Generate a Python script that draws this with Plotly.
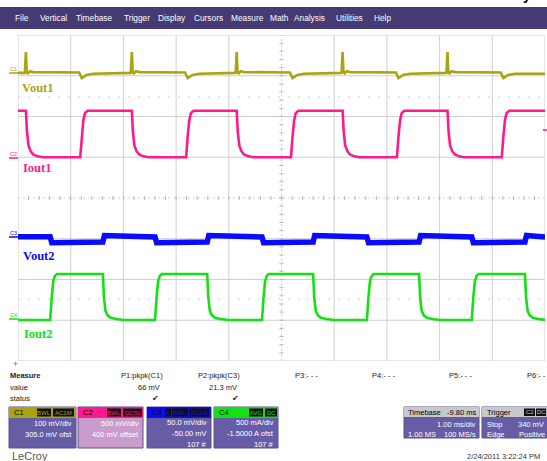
import plotly.graph_objects as go

W, H = 547, 461
GRID_L, GRID_R, GRID_T, GRID_B = 18, 545, 35, 361

# ---------------- data ----------------
n_xdiv = 10          # 1.00 ms/div
n_ydiv = 8

# channel vertical settings  (screen div = (value + offset) / scale)
c1_scale_mv, c1_offset_mv = 100.0, 305.0     # Vout1
c2_scale_v, c2_offset_v = 0.5, 0.4           # Iout1
c3_scale_mv, c3_offset_mv = 50.0, -50.0      # Vout2
c4_scale_a, c4_offset_a = 0.5, -1.5          # Iout2

# Iout1 (C2) edges, ms
iout1_fall_ms = [0.15, 2.16, 4.15, 6.16, 8.15]
iout1_rise_ms = [1.18, 3.19, 5.18, 7.19, 9.18]
iout1_high_v = 0.67
iout1_low_v = 0.10
iout1_fall_dt = [0.0, 0.02, 0.05, 0.09, 0.14, 0.22, 0.32]
iout1_fall_frac = [1.0, 0.55, 0.25, 0.13, 0.06, 0.02, 0.0]
iout1_rise_dt = [0.0, 0.03, 0.06, 0.09, 0.14]
iout1_rise_frac = [0.0, 0.45, 0.8, 0.95, 1.0]

# Vout1 (C1), mV, AC coupled: spikes at Iout1 falls, dips at Iout1 rises
vout1_start_mv = 2.0
vout1_spike_dt = [-0.02, 0.0, 0.015, 0.04, 0.08, 0.14]
vout1_spike_mv = [2.0, 53.0, 5.0, 1.0, 6.0, 4.0]
vout1_dip_dt = [-0.02, 0.03, 0.06, 0.12, 0.25]
vout1_dip_mv = [3.0, -10.5, -8.0, -3.0, 0.0]

# Iout2 (C4) edges, ms
iout2_rise_ms = [0.61, 2.60, 4.63, 6.62, 8.61]
iout2_fall_ms = [1.61, 3.59, 5.60, 7.61, 9.62]
iout2_high_a = 0.567
iout2_low_a = 0.003
iout2_rise_dt = [0.0, 0.03, 0.06, 0.09, 0.13]
iout2_rise_frac = [0.0, 0.5, 0.85, 0.96, 1.0]
iout2_fall_dt = [0.0, 0.02, 0.05, 0.09, 0.15, 0.25, 0.4]
iout2_fall_frac = [1.0, 0.5, 0.2, 0.1, 0.05, 0.02, 0.0]

# Vout2 (C3), mV, AC coupled: low while Iout2 high
vout2_start_mv = 2.5
vout2_high_start_mv = 4.0
vout2_high_end_mv = 2.2
vout2_low_start_mv = -4.8
vout2_low_end_mv = -4.0
vout2_step_ms = 0.03

menu_items = ["File", "Vertical", "Timebase", "Trigger", "Display", "Cursors",
              "Measure", "Math", "Analysis", "Utilities", "Help"]
menu_x = [13, 38, 74, 122, 156, 192, 229, 268, 292, 334, 372]

# ---------------- colours ----------------
OLIVE = "#a8a412"
PINK = "#ff1a8c"
BLUE = "#0a0aff"
GREEN = "#14e014"
PURPLE = "#675ca6"
MENU = "#453a73"
GRIDC = "#cfcfcf"


def square(start_high, rises, falls, lo, hi, rdt, rfr, fdt, ffr):
    xs = [0.0]
    ys = [hi if start_high else lo]
    ev = sorted([(t, rdt, rfr) for t in rises] + [(t, fdt, ffr) for t in falls])
    for t, dts, frs in ev:
        for d, f in zip(dts, frs):
            xs.append(t + d)
            ys.append(lo + f * (hi - lo))
    xs.append(float(n_xdiv))
    ys.append(ys[-1])
    return xs, ys


def events_profile(start_val, ev_a, a_dt, a_val, ev_b, b_dt, b_val):
    xs = [0.0]
    ys = [start_val]
    ev = sorted([(t, a_dt, a_val) for t in ev_a] + [(t, b_dt, b_val) for t in ev_b])
    for t, dts, vals in ev:
        for d, v in zip(dts, vals):
            xs.append(t + d)
            ys.append(v)
    xs.append(float(n_xdiv))
    ys.append(ys[-1])
    return xs, ys


# Vout1
v1x, v1y = events_profile(vout1_start_mv, iout1_fall_ms, vout1_spike_dt, vout1_spike_mv,
                          iout1_rise_ms, vout1_dip_dt, vout1_dip_mv)
v1d = [(v + c1_offset_mv) / c1_scale_mv for v in v1y]
# Iout1
i1x, i1y = square(True, iout1_rise_ms, iout1_fall_ms, iout1_low_v, iout1_high_v,
                  iout1_rise_dt, iout1_rise_frac, iout1_fall_dt, iout1_fall_frac)
i1d = [(v + c2_offset_v) / c2_scale_v for v in i1y]
# Iout2
i2x, i2y = square(False, iout2_rise_ms, iout2_fall_ms, iout2_low_a, iout2_high_a,
                  iout2_rise_dt, iout2_rise_frac, iout2_fall_dt, iout2_fall_frac)
i2d = [(v + c4_offset_a) / c4_scale_a for v in i2y]
# Vout2
v2x, v2y = [0.0], [vout2_start_mv]
first = True
for t, kind in sorted([(t, "low") for t in iout2_rise_ms] + [(t, "high") for t in iout2_fall_ms]):
    if kind == "low":
        v2x += [t, t + vout2_step_ms]
        v2y += [v2y[-1] if first else vout2_high_end_mv, vout2_low_start_mv]
    else:
        v2x += [t, t + vout2_step_ms]
        v2y += [vout2_low_end_mv, vout2_high_start_mv]
    first = False
v2x.append(float(n_xdiv))
v2y.append(vout2_high_end_mv)
v2d = [(v + c3_offset_mv) / c3_scale_mv for v in v2y]

fig = go.Figure()
fig.add_trace(go.Scatter(x=v1x, y=v1d, mode="lines", line=dict(color=OLIVE, width=2.6), hoverinfo="skip"))
fig.add_trace(go.Scatter(x=i1x, y=i1d, mode="lines", line=dict(color=PINK, width=2.6), hoverinfo="skip"))
fig.add_trace(go.Scatter(x=v2x, y=v2d, mode="lines", line=dict(color=BLUE, width=5.5), hoverinfo="skip"))
fig.add_trace(go.Scatter(x=i2x, y=i2d, mode="lines", line=dict(color=GREEN, width=2.6), hoverinfo="skip"))

shapes = []
annotations = []


def px(x):
    return x / W


def py(y):
    return 1 - y / H


def rect(x0, y0, x1, y1, fill, line=None):
    shapes.append(dict(type="rect", xref="paper", yref="paper", x0=px(x0), x1=px(x1),
                       y0=py(y1), y1=py(y0), fillcolor=fill,
                       line=dict(width=1 if line else 0, color=line or fill), layer="below"))


def text(x, y, s, size=7.5, color="#222", xanchor="left", bold=False, family="Liberation Sans"):
    if bold:
        s = "<b>" + s + "</b>"
    annotations.append(dict(x=px(x), y=py(y), xref="paper", yref="paper", text=s, showarrow=False,
                            xanchor=xanchor, yanchor="middle",
                            font=dict(size=size, color=color, family=family)))


# ---- grid ----
for i in range(n_xdiv + 1):
    if i == n_xdiv // 2:
        shapes.append(dict(type="line", xref="x", yref="y", x0=i, x1=i, y0=-4, y1=4,
                           line=dict(color=GRIDC, width=1, dash="2px,3px"), layer="below"))
    else:
        shapes.append(dict(type="line", xref="x", yref="y", x0=i, x1=i, y0=-4, y1=4,
                           line=dict(color=GRIDC, width=1), layer="below"))
for j in range(-4, 5):
    if j == 0:
        shapes.append(dict(type="line", xref="x", yref="y", x0=0, x1=10, y0=0, y1=0,
                           line=dict(color=GRIDC, width=1, dash="2px,3px"), layer="below"))
    else:
        shapes.append(dict(type="line", xref="x", yref="y", x0=0, x1=10, y0=j, y1=j,
                           line=dict(color=GRIDC, width=1), layer="below"))
for j in (2.48, -2.48):
    shapes.append(dict(type="line", xref="x", yref="y", x0=0, x1=10, y0=j, y1=j,
                       line=dict(color=GRIDC, width=1, dash="2px,8px"), layer="below"))
for k in range(1, 50):
    t = k * 0.2
    shapes.append(dict(type="line", xref="x", yref="y", x0=t, x1=t, y0=-0.05, y1=0.05,
                       line=dict(color="#b8b8b8", width=1), layer="below"))
for k in range(1, 40):
    d = -4 + k * 0.2
    shapes.append(dict(type="line", xref="x", yref="y", x0=4.96, x1=5.04, y0=d, y1=d,
                       line=dict(color="#b8b8b8", width=1), layer="below"))

# ---- menu bar ----
rect(0, 7, W, 29, MENU)
for s, x in zip(menu_items, menu_x):
    text(x, 18, s, size=8.3, color="white")

# partially cut document text at the very top
for s, x in [("CCU2", 80), ("CCU1", 180), ("CCU2", 227), ("y", 527)]:
    annotations.append(dict(x=px(x), y=py(-4.5), xref="paper", yref="paper", text="<b>" + s + "</b>",
                            showarrow=False, xanchor="center", yanchor="middle",
                            font=dict(size=14, color="black", family="Liberation Sans")))

# ---- channel ground markers ----
for lab, yy, col in [("C1", 73, OLIVE), ("C2", 158, PINK), ("C3", 237, BLUE), ("C4", 319, GREEN)]:
    shapes.append(dict(type="line", xref="paper", yref="paper", x0=px(9), x1=px(18), y0=py(yy), y1=py(yy),
                       line=dict(color=col, width=1.5)))
    text(8, yy - 4, lab, size=5.5, color=col)
shapes.append(dict(type="line", xref="paper", yref="paper", x0=px(543), x1=px(547), y0=py(130), y1=py(130),
                   line=dict(color=PINK, width=1.5)))

# ---- trace labels ----
text(20, 88, "Vout1", size=12.5, color=OLIVE, bold=True, family="Liberation Serif")
text(21, 168, "Iout1", size=12.5, color=PINK, bold=True, family="Liberation Serif")
text(21, 256, "Vout2", size=12.5, color=BLUE, bold=True, family="Liberation Serif")
text(22, 334, "Iout2", size=12.5, color=GREEN, bold=True, family="Liberation Serif")

# ---- measure area ----
text(15, 364, "+", size=9, color=PINK, xanchor="center")
text(8, 375.5, "Measure", size=7.5, bold=True)
text(8, 387, "value", size=7.5)
text(8, 398.5, "status", size=7.5)
text(142, 375.5, "P1:pkpk(C1)", size=7.5, xanchor="center")
text(219, 375.5, "P2:pkpk(C3)", size=7.5, xanchor="center")
text(162, 387, "66 mV", size=7.5, xanchor="right")
text(239, 387, "21.3 mV", size=7.5, xanchor="right")
text(156, 398.5, "✔", size=8, xanchor="center", family="DejaVu Sans")
text(235, 398.5, "✔", size=8, xanchor="center", family="DejaVu Sans")
for lab, x in [("P3:- - -", 293), ("P4:- - -", 370), ("P5:- - -", 447), ("P6:- - -", 525)]:
    text(x, 375.5, lab, size=7.5)

# ---- channel boxes ----
boxes = [
    (9, 76, OLIVE, PURPLE, "C1", [("BWL", 37, 51), ("AC1M", 53, 74)], ["100 mV/div", "305.0 mV ofst"]),
    (78, 143, PINK, "#c99ccc", "C2", [("BWL", 107, 121), ("DC50", 123, 142)], ["500 mV/div", "400 mV offset"]),
    (147, 211, BLUE, PURPLE, "C3", [("A", 165, 171), ("BWL", 172, 188), ("AC1M", 189, 209)],
     ["50.0 mV/div", "-50.00 mV", "107 #"]),
    (214, 278, GREEN, PURPLE, "C4", [("AVG", 249, 263), ("DC", 265, 277)], ["500 mA/div", "-1.5000 A ofst", "107 #"]),
]
for x0, x1, hc, bc, lab, tags, lines in boxes:
    rect(x0, 407, x1, 448, bc, line="#5a5090")
    rect(x0, 407, x1, 418, hc)
    text(x0 + 3, 412.5, lab, size=7.5, color="black")
    for tg, a, b in tags:
        rect(a, 408.5, b, 416.5, "#111111")
        text((a + b) / 2, 412.5, tg, size=6, color=hc, xanchor="center")
    ys = [423.5, 434.5] if len(lines) == 2 else [422, 433, 444]
    for s, yy in zip(lines, ys):
        text(x1 - 2, yy, s, size=7.5, color="white", xanchor="right")

# timebase box
rect(404, 407, 479, 438, PURPLE, line="#5a5090")
rect(404, 407, 479, 417, "#c8c8c8")
text(406, 412, "Timebase", size=7.5, color="black")
text(478, 412, "-9.80 ms", size=7.5, color="black", xanchor="right")
text(478, 424, "1.00 ms/div", size=7.5, color="white", xanchor="right")
text(406, 434, "1.00 MS", size=7.5, color="white")
text(478, 434, "100 MS/s", size=7.5, color="white", xanchor="right")
# trigger box
rect(482, 407, 548, 438, PURPLE, line="#5a5090")
rect(482, 407, 548, 417, "#c8c8c8")
text(485, 412, "Trigger", size=7.5, color="black")
for tg, a, b in [("C2", 524, 535), ("DC", 536, 546)]:
    rect(a, 408.5, b, 416, "#111111")
    text((a + b) / 2, 412.3, tg, size=6, color="#c8c8c8", xanchor="center")
text(485, 424, "Stop", size=7.5, color="white")
text(546, 424, "340 mV", size=7.5, color="white", xanchor="right")
text(485, 434, "Edge", size=7.5, color="white")
text(547, 434, "Positive", size=7.5, color="white", xanchor="right")

text(10, 455.5, "LeCroy", size=11, color="#555555")
text(542, 456, "2/24/2011 3:22:24 PM", size=7.5, color="#333333", xanchor="right")

fig.update_layout(
    width=W, height=H,
    margin=dict(l=0, r=0, t=0, b=0),
    paper_bgcolor="white", plot_bgcolor="white",
    showlegend=False,
    xaxis=dict(domain=[GRID_L / W, GRID_R / W], range=[0, n_xdiv], visible=False, fixedrange=True),
    yaxis=dict(domain=[1 - GRID_B / H, 1 - GRID_T / H], range=[-n_ydiv / 2, n_ydiv / 2], visible=False,
               fixedrange=True),
    shapes=shapes,
    annotations=annotations,
)

fig.write_html("out.html", config={"displayModeBar": False},
               post_script="document.body.style.margin='0px';document.body.style.overflow='hidden';")
